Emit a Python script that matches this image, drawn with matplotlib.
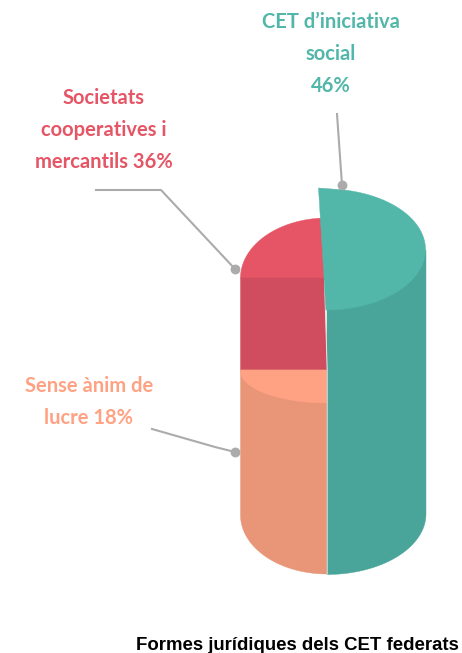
import numpy as np
import matplotlib
matplotlib.use('Agg')
import matplotlib.pyplot as plt
from matplotlib.patches import Polygon

# Datos
categories = ["CET d’iniciativa\nsocial", "Societats\ncooperatives i\nmercantils", "Sense ànim de\nlucre"]
shares = [46, 36, 18]
title = "Formes jurídiques dels CET federats"

teal, red, peach = "#52b6a9", "#e55565", "#ffa283"
teal_side, red_side, peach_side = "#49a59a", "#cf4d5f", "#e89578"
grey = "#ababab"


def arc(cx, cy, rx, ry, a0, a1):
    t = np.radians(np.linspace(a0, a1, 80))
    return np.column_stack([cx + rx * np.cos(t), cy - ry * np.sin(t)])


def shape(ax, parts, color, z):
    ax.add_patch(Polygon(np.vstack(parts), closed=True, fc=color, ec=color, lw=0.3, zorder=z))


fig = plt.figure(figsize=(4.62, 6.53), dpi=100)
ax = fig.add_axes([0, 0, 1, 1])
ax.set_xlim(0, 462)
ax.set_ylim(653, 0)
ax.axis('off')

# Cilindro, lado izquierdo
shape(ax, [arc(327, 278, 86.5, 60, 90, 180), [[324.5, 278]]], red, 1)
shape(ax, [[[240.5, 278], [324.5, 278], [327, 370], [240.5, 370]]], red_side, 1)
shape(ax, [arc(327, 515, 86.5, 59, 180, 270), [[327, 370], [240.5, 370]]], peach_side, 1)
shape(ax, [[[240.5, 370], [327, 370]], arc(327, 371, 86.5, 32, 270, 180)], peach, 2)

# Cilindro, lado derecho
shape(ax, [[[327, 300], [426, 250]], [[426, 514]], arc(327, 514, 99, 60.5, 0, -90)], teal_side, 3)
shape(ax, [[[318.5, 188]], arc(326, 249.5, 99.5, 60.5, 84, -90)], teal, 4)
ax.plot([324.5, 327.2, 327.2], [280, 370, 574], color="#f3e3dd", lw=0.7, zorder=3)

# Líneas de referencia
ax.plot([337, 342], [114, 185], color=grey, lw=1.5, zorder=5)
ax.plot([96, 161, 235], [190, 190, 269], color=grey, lw=1.5, zorder=5)
ax.plot([152, 215, 235], [429, 447, 452], color=grey, lw=1.5, zorder=5)
ax.scatter([342, 235, 235], [185, 269, 452], s=50, color=grey, linewidths=0, zorder=6)

# Textos
fonts = ['Lato', 'DejaVu Sans']
labels = [f"{categories[0]}\n{shares[0]}%",
          f"{categories[1]} {shares[1]}%",
          f"{categories[2]} {shares[2]}%"]
ax.text(331, 54, labels[0], color=teal, family=fonts, weight='bold', fontsize=14.5,
        ha='center', va='center', linespacing=1.72)
ax.text(104, 130, labels[1], color=red, family=fonts, weight='bold', fontsize=14.5,
        ha='center', va='center', linespacing=1.72)
ax.text(89, 402, labels[2], color=peach, family=fonts, weight='bold', fontsize=14.5,
        ha='center', va='center', linespacing=1.72)
ax.text(459, 646, title, color="black", family=['Liberation Sans', 'DejaVu Sans'], weight='bold',
        fontsize=13.45, ha='right', va='center')

fig.savefig('out.png', dpi=100)
